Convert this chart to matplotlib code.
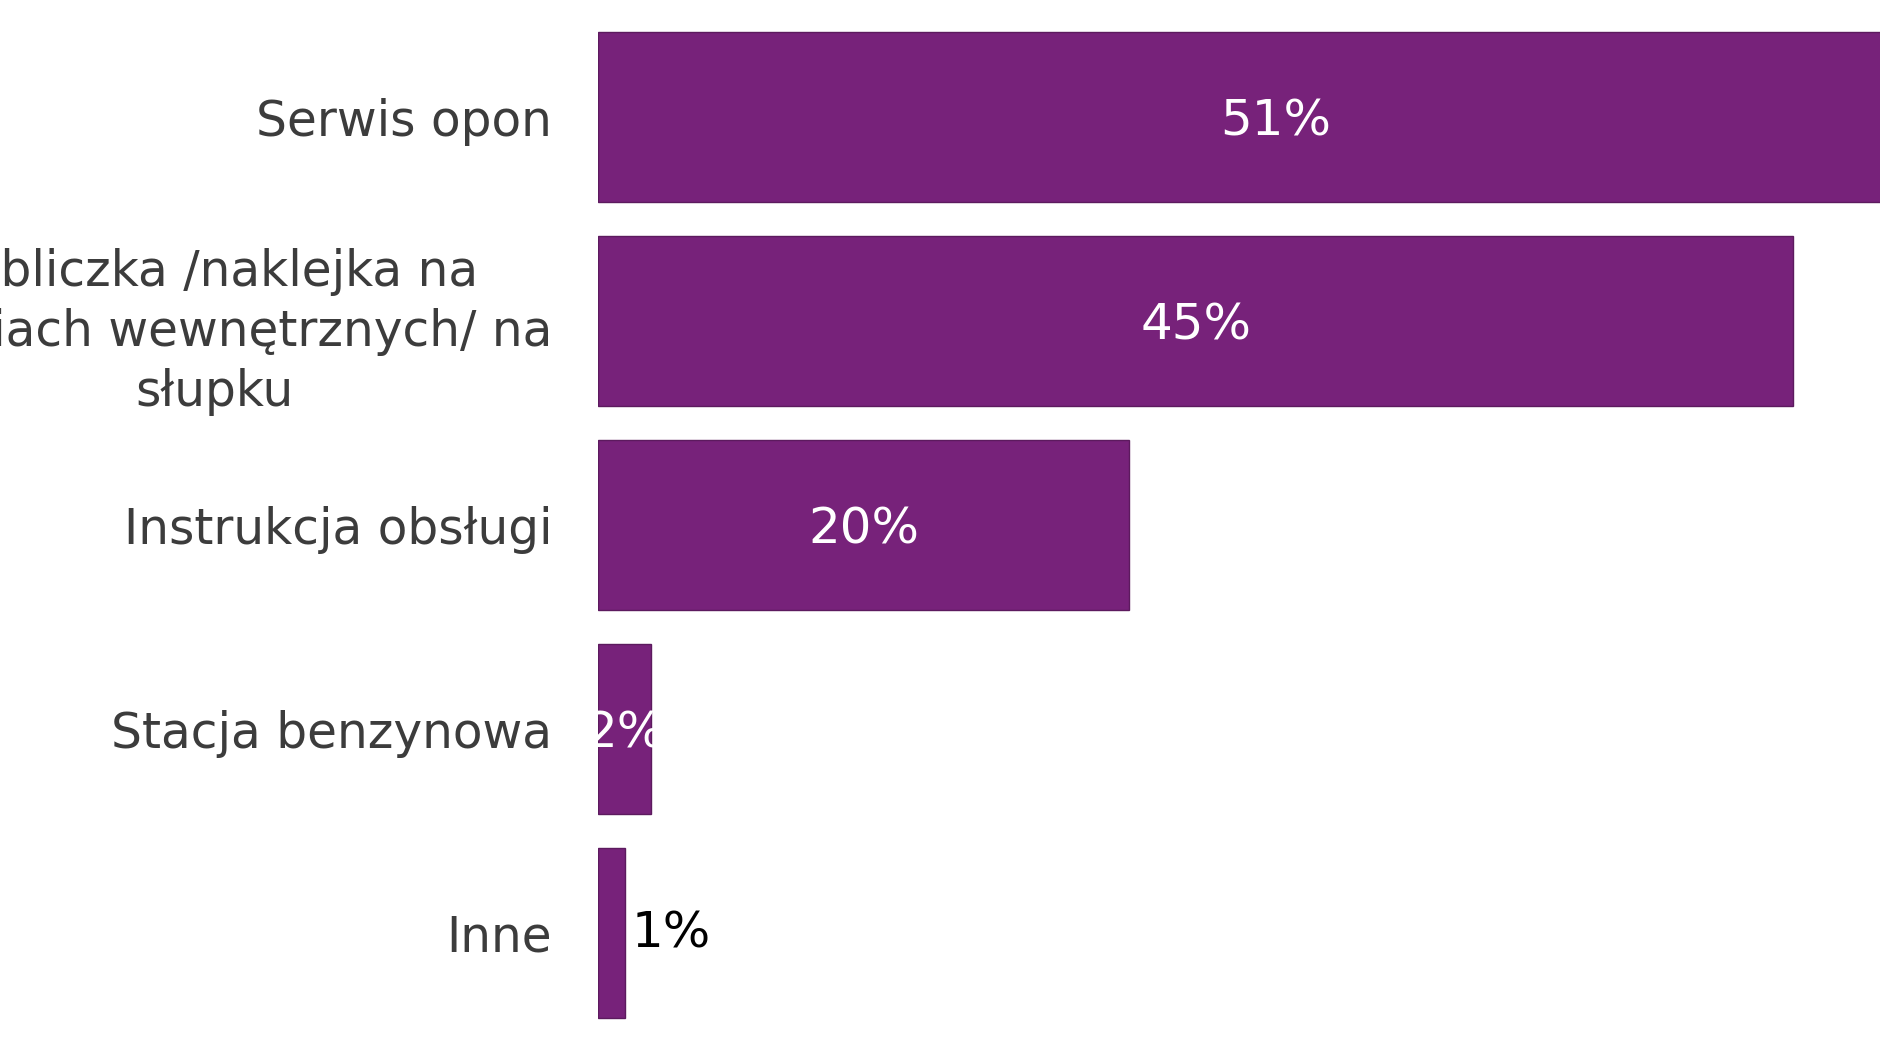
import matplotlib
matplotlib.use('Agg')
import matplotlib.pyplot as plt

# data
categories = ['Serwis opon',
              'Tabliczka /naklejka na\ndrzwiach wewnętrznych/ na\nsłupku',
              'Instrukcja obsługi',
              'Stacja benzynowa',
              'Inne']
values = [51, 45, 20, 2, 1]
value_labels = ['51%', '45%', '20%', '2%', '1%']
inside = [True, True, True, True, False]

BAR = '#77227a'
EDGE = '#5c1a5e'

fig = plt.figure(figsize=(18.8, 10.6), dpi=100)
fig.patch.set_facecolor('white')
# chart is cropped on the left and right, like the reference
ax = fig.add_axes([598 / 1880, 1 - 1035 / 1060, 26.56 * 55 / 1880, 1020 / 1060])
ax.set_xlim(0, 55)

y = list(range(len(categories)))
ax.barh(y, values, height=0.83, color=BAR, edgecolor=EDGE, linewidth=1)
ax.set_ylim(len(categories) - 0.5, -0.5)

ax.set_yticks(y)
ax.set_yticklabels(categories, fontsize=35, color='#3c3c3c', linespacing=1.32)
for lbl in ax.get_yticklabels():
    lbl.set_multialignment('center')
ax.tick_params(axis='y', length=0, pad=33)
ax.set_xticks([])
for s in ax.spines.values():
    s.set_visible(False)

for yi, v, txt, ins in zip(y, values, value_labels, inside):
    if ins:
        t = ax.text(v / 2, yi + 0.02, txt, ha='center', va='center',
                    fontsize=36, color='white')
        # clip to the bar, so small bars cut their label
        t.set_clip_path(ax.patches[yi])
    else:
        ax.text(v + 0.25, yi, txt, ha='left', va='center',
                fontsize=36, color='black')

plt.savefig('out.png', dpi=100)
plt.close()
